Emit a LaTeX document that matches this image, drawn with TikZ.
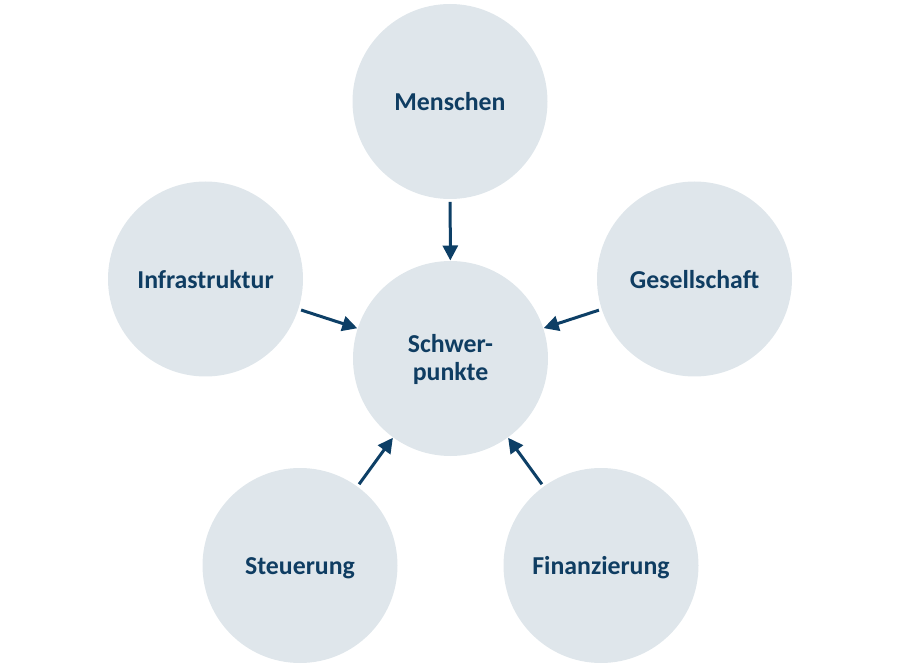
\documentclass[tikz,border=0pt]{standalone}
\usepackage{fontspec}
\setmainfont{Carlito}
\usetikzlibrary{arrows.meta}
\definecolor{bubblefill}{HTML}{DFE6EB}
\definecolor{textblue}{HTML}{0F3D62}
\definecolor{arrowblue}{HTML}{0D3F66}
\tikzset{
  bubble/.style={circle, fill=bubblefill, minimum size=195pt, inner sep=0pt, outer sep=0pt,
    font=\bfseries\fontsize{25.8}{28}\selectfont, text=textblue, text height=18.5pt, text depth=0pt},
  ctext/.style={font=\bfseries\fontsize{25.8}{27.5}\selectfont, text=textblue, align=center, inner sep=0pt},
  link/.style={draw=arrowblue, line width=3pt, -{Triangle[length=15pt,width=15pt]}, shorten <=3pt, shorten >=0.5pt}
}
\begin{document}
\begin{tikzpicture}[x=1pt,y=-1pt]
\useasboundingbox (0,0) rectangle (900,668);
\node[bubble] (m) at (450,101.5) {Menschen};
\node[bubble] (i) at (205.5,279) {Infrastruktur};
\node[bubble] (g) at (694.5,279) {Gesellschaft};
\node[bubble] (c) at (450.5,358.5) {};
\node[ctext] (ct) at (450.5,359.5) {Schwer-\\punkte};
\node[bubble] (s) at (300,565.5) {Steuerung};
\node[bubble] (f) at (601,565.5) {Finanzierung};
\draw[link] (m) -- (c);
\draw[link] (i) -- (c);
\draw[link] (g) -- (c);
\draw[link] (s) -- (c);
\draw[link] (f) -- (c);
\end{tikzpicture}
\end{document}
